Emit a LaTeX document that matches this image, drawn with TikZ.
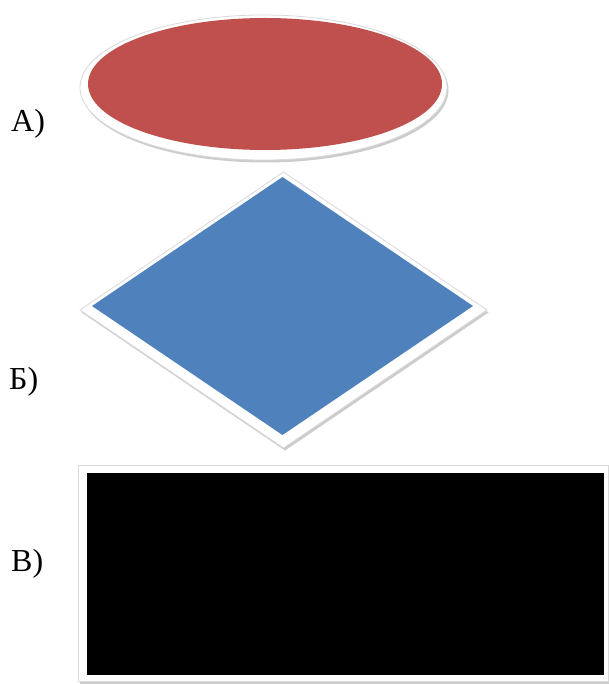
\documentclass[tikz,border=0pt]{standalone}
\usepackage{fontspec}
\setmainfont{Liberation Serif}
\usetikzlibrary{shapes.geometric,shadows}
\definecolor{OvalRed}{HTML}{C0504D}
\definecolor{RhombBlue}{HTML}{4F81BD}

\begin{document}
\begin{tikzpicture}[x=1pt, y=-1pt,
   lbl/.style={font=\fontsize{32}{38}\selectfont, inner sep=0pt, anchor=west},
   plain/.style={inner sep=0pt, outer sep=0pt},
   rim/.style={plain, fill=white, draw=gray!30, line width=0.8pt,
               drop shadow={shadow xshift=1.5pt, shadow yshift=-2.5pt, opacity=0.4, fill=gray}}]
  \useasboundingbox (0,0) rectangle (609,684);
  % A) oval
  \node[rim, ellipse, minimum width=367pt, minimum height=145pt] (ovalrim) at (263.5,87.5) {};
  \node[plain, ellipse, fill=OvalRed, minimum width=354pt, minimum height=132pt] (oval) at (265,84) {};
  \node[lbl] (lblA) at (11,124) {А)};
  % Б) rhomb
  \node[rim, diamond, minimum width=407pt, minimum height=276pt] (rhombrim) at (283.5,310) {};
  \node[plain, diamond, fill=RhombBlue, minimum width=381pt, minimum height=258pt] (rhomb) at (282.5,306) {};
  \node[lbl] (lblB) at (9,382) {Б)};
  % В) box
  \node[rim, rectangle, minimum width=530pt, minimum height=216pt] (boxrim) at (343,573) {};
  \node[plain, rectangle, fill=black, minimum width=517pt, minimum height=202pt] (box) at (345.5,574) {};
  \node[lbl] (lblV) at (11,564) {В)};
\end{tikzpicture}
\end{document}
